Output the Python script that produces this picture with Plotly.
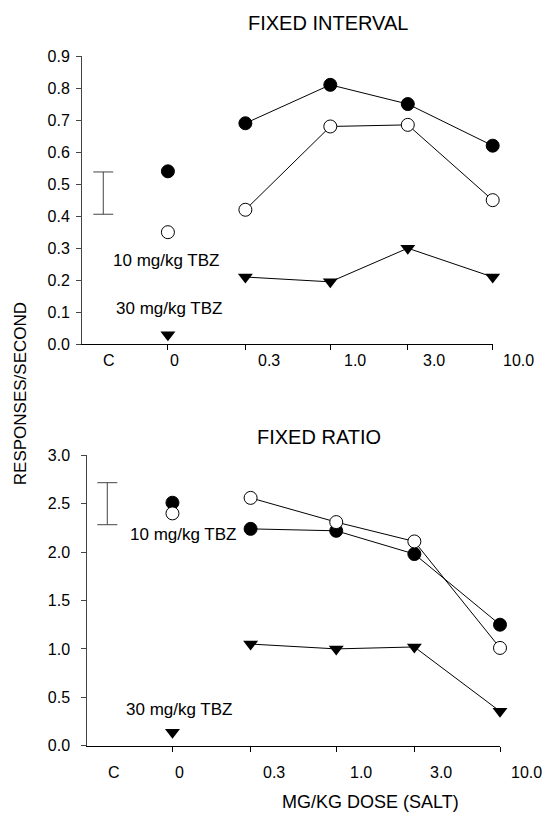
import numpy as np
import plotly.graph_objects as go

# ---------------- data ----------------
DOSES = [0.3, 1.0, 3.0, 10.0]          # mg/kg (salt)
CONTROL_DOSE = [0.1]                    # plotting position of the "0" dose

# FIXED INTERVAL (responses/second)
FI_SAL_CTRL = [0.54]
FI_SAL = [0.69, 0.81, 0.75, 0.62]
FI_T10_CTRL = [0.35]
FI_T10 = [0.42, 0.68, 0.685, 0.45]
FI_T30_CTRL = [0.03]
FI_T30 = [0.21, 0.195, 0.30, 0.21]
FI_ERR_MEAN = [0.472]
FI_ERR_HALF = [0.066]

# FIXED RATIO (responses/second)
FR_SAL_CTRL = [2.51]
FR_SAL = [2.24, 2.22, 1.98, 1.25]
FR_T10_CTRL = [2.40]
FR_T10 = [2.56, 2.31, 2.11, 1.01]
FR_T30_CTRL = [0.14]
FR_T30 = [1.05, 1.00, 1.02, 0.355]
FR_ERR_MEAN = [2.50]
FR_ERR_HALF = [0.217]

X_TICK_TEXT = ["C", "0", "0.3", "1.0", "3.0", "10.0"]
X_TICK_VALS = [0.1, 0.3, 1.0, 3.0, 10.0]
FI_Y_TICKS = [0.0, 0.1, 0.2, 0.3, 0.4, 0.5, 0.6, 0.7, 0.8, 0.9]
FR_Y_TICKS = [0.0, 0.5, 1.0, 1.5, 2.0, 2.5, 3.0]

# ---------------- layout constants ----------------
W, H = 545, 815
FONT = "Liberation Sans, Arial, sans-serif"
ERR_X = [0.04]
LABEL_LOGX = [-1.36, -0.96, -0.38, 0.15, 0.64, 1.16]

TOP_X = (82.0, 492.7, -1.529, 1.0)      # px left, px right, log range
BOT_X = (87.3, 500.0, -1.52, 1.0)


def px_y(py):
    return 1 - py / H


def log_to_paper(lx, ax):
    p0, p1, r0, r1 = ax
    return (p0 + (lx - r0) / (r1 - r0) * (p1 - p0)) / W


fig = go.Figure()

filled = dict(symbol="circle", size=13, color="black", line=dict(color="black", width=1))
opened = dict(symbol="circle", size=13, color="white", line=dict(color="black", width=1))
tri = dict(symbol="triangle-down", size=13, color="black", line=dict(color="black", width=0))
line = dict(color="black", width=1)

panels = [
    ("x", "y", FI_SAL_CTRL, FI_SAL, FI_T10_CTRL, FI_T10, FI_T30_CTRL, FI_T30, FI_ERR_MEAN, FI_ERR_HALF),
    ("x2", "y2", FR_SAL_CTRL, FR_SAL, FR_T10_CTRL, FR_T10, FR_T30_CTRL, FR_T30, FR_ERR_MEAN, FR_ERR_HALF),
]

for xa, ya, sc, s, tc, t, t3c, t3, em, eh in panels:
    fig.add_trace(go.Scatter(
        x=ERR_X, y=em, mode="markers", xaxis=xa, yaxis=ya,
        marker=dict(size=1, color="rgba(0,0,0,0)"),
        error_y=dict(type="data", array=eh, symmetric=True, color="#444", thickness=1, width=10),
        showlegend=False, hoverinfo="skip"))
    for ctrl, vals, mk in [(t3c, t3, tri), (sc, s, filled), (tc, t, opened)]:
        fig.add_trace(go.Scatter(x=DOSES, y=vals, mode="lines+markers", xaxis=xa, yaxis=ya,
                                 line=line, marker=mk, showlegend=False, cliponaxis=False))
        fig.add_trace(go.Scatter(x=CONTROL_DOSE, y=ctrl, mode="markers", xaxis=xa, yaxis=ya,
                                 marker=mk, showlegend=False, cliponaxis=False))

TICK_SIZE = 16
axis_font = dict(family=FONT, size=TICK_SIZE, color="black")

xcommon = dict(type="log", tickvals=X_TICK_VALS, showticklabels=False, ticks="outside",
               ticklen=5, tickcolor="black", showline=True, linecolor="black", linewidth=1,
               showgrid=False, zeroline=False, automargin=False)
ycommon = dict(ticks="outside", ticklen=5, tickcolor="#444", showline=True, linecolor="#444",
               linewidth=1, showgrid=False, zeroline=False, tickformat=".1f", tickfont=axis_font,
               automargin=False)

fig.update_layout(
    width=W, height=H, margin=dict(l=0, r=0, t=0, b=0, pad=0),
    paper_bgcolor="white", plot_bgcolor="white",
    font=dict(family=FONT, color="black"),
    xaxis=dict(domain=[TOP_X[0] / W, TOP_X[1] / W], range=[TOP_X[2], TOP_X[3]], anchor="y", **xcommon),
    yaxis=dict(domain=[px_y(344.3), px_y(56)], range=[0, 0.9], tickvals=FI_Y_TICKS,
               anchor="x", ticklabelstandoff=3, **ycommon),
    xaxis2=dict(domain=[BOT_X[0] / W, BOT_X[1] / W], range=[BOT_X[2], BOT_X[3]], anchor="y2", **xcommon),
    yaxis2=dict(domain=[px_y(745.7), px_y(455.3)], range=[0, 3.0], tickvals=FR_Y_TICKS,
                anchor="x2", ticklabelstandoff=8, **ycommon),
)

ann = []
for axdef, ypix in [(TOP_X, 360.7), (BOT_X, 772.3)]:
    for txt, lx in zip(X_TICK_TEXT, LABEL_LOGX):
        ann.append(dict(text=txt, x=log_to_paper(lx, axdef), xref="paper", y=px_y(ypix), yref="paper",
                        xanchor="center", yanchor="middle", showarrow=False,
                        font=dict(family=FONT, size=TICK_SIZE, color="black")))

ann.append(dict(text="FIXED INTERVAL", x=328.3 / W, y=px_y(23.3), xref="paper", yref="paper",
                xanchor="center", yanchor="middle", showarrow=False,
                font=dict(family=FONT, size=20, color="black")))
ann.append(dict(text="FIXED RATIO", x=318.5 / W, y=px_y(436.7), xref="paper", yref="paper",
                xanchor="center", yanchor="middle", showarrow=False,
                font=dict(family=FONT, size=20, color="black")))
ann.append(dict(text="RESPONSES/SECOND", x=20 / W, y=px_y(394.2), xref="paper", yref="paper",
                xanchor="center", yanchor="middle", textangle=-90, showarrow=False,
                font=dict(family=FONT, size=17, color="black")))
ann.append(dict(text="MG/KG DOSE (SALT)", x=370.8 / W, y=px_y(802), xref="paper", yref="paper",
                xanchor="center", yanchor="middle", showarrow=False,
                font=dict(family=FONT, size=18, color="black")))
for txt, xr, yr, lx, ly in [
    ("10 mg/kg TBZ", "x", "y", -1.01, 0.261),
    ("30 mg/kg TBZ", "x", "y", -0.992, 0.112),
    ("10 mg/kg TBZ", "x2", "y2", -0.935, 2.177),
    ("30 mg/kg TBZ", "x2", "y2", -0.958, 0.376),
]:
    ann.append(dict(text=txt, x=lx, y=ly, xref=xr, yref=yr, xanchor="center", yanchor="middle",
                    showarrow=False, font=dict(family=FONT, size=17, color="black")))

fig.update_layout(annotations=ann)
fig.write_html("out.html",
               config={"displayModeBar": False, "staticPlot": True},
               post_script="document.body.style.margin='0';document.body.style.overflow='hidden';")
